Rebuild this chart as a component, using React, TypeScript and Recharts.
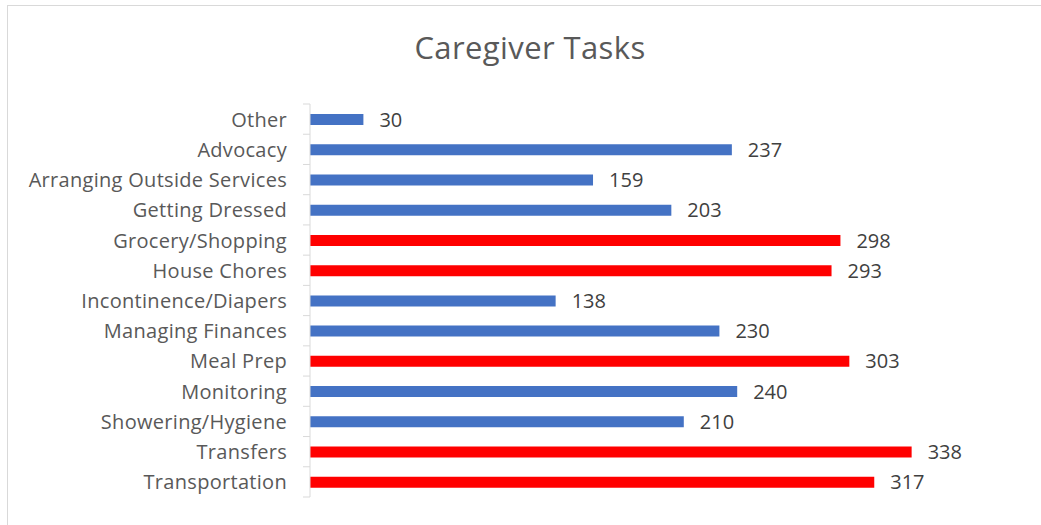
import React from 'react';
import { BarChart, Bar, XAxis, YAxis, Cell, LabelList } from 'recharts';

// =============================================================================
// Data
// =============================================================================

const TASKS = [
  'Other',
  'Advocacy',
  'Arranging Outside Services',
  'Getting Dressed',
  'Grocery/Shopping',
  'House Chores',
  'Incontinence/Diapers',
  'Managing Finances',
  'Meal Prep',
  'Monitoring',
  'Showering/Hygiene',
  'Transfers ',
  'Transportation',
];

const COUNTS = [30, 237, 159, 203, 298, 293, 138, 230, 303, 240, 210, 338, 317];

// tasks highlighted in red in the source chart
const HIGHLIGHT = [false, false, false, false, true, true, false, false, true, false, false, true, true];

const BLUE = '#4472c4';
const RED = '#ff0000';

const data = TASKS.map((name, i) => ({ name, value: COUNTS[i], hot: HIGHLIGHT[i] }));

// =============================================================================
// Layout
// =============================================================================

const WIDTH = 1041;
const HEIGHT = 525;
const MARGIN = { top: 104, right: 108, bottom: 28, left: 0 };
const AXIS_WIDTH = 310;
const FONT = '"Open Sans", Lato, sans-serif';

const BAND = (HEIGHT - MARGIN.top - MARGIN.bottom) / TASKS.length;

// Excel puts tick marks between categories, not at their centres
const CategoryTick = ({ x, y, payload, index }: any) => {
  const axisX = x + 16;
  return (
    <g>
      <line x1={axisX - 7} x2={axisX} y1={y - BAND / 2} y2={y - BAND / 2} stroke="#d9d9d9" />
      {index === TASKS.length - 1 && (
        <line x1={axisX - 7} x2={axisX} y1={y + BAND / 2} y2={y + BAND / 2} stroke="#d9d9d9" />
      )}
      <text
        x={x - 7}
        y={y}
        textAnchor="end"
        dominantBaseline="central"
        fill="#595959"
        fontSize={20}
        letterSpacing={0.3}
        fontFamily={FONT}
      >
        {payload.value}
      </text>
    </g>
  );
};

export default function App() {
  return (
    <div style={{ position: 'absolute', left: 0, top: 0, width: WIDTH, height: HEIGHT, background: '#fff' }}>
      <div
        style={{
          position: 'absolute',
          left: 7,
          top: 5,
          width: WIDTH,
          height: HEIGHT,
          border: '1px solid #d9d9d9',
          boxSizing: 'border-box',
        }}
      />
      <div
        style={{
          position: 'absolute',
          left: 0,
          top: 26,
          width: 1060,
          textAlign: 'center',
          fontFamily: FONT,
          fontSize: 31,
          letterSpacing: 0.4,
          color: '#595959',
        }}
      >
        Caregiver Tasks
      </div>
      <BarChart
        width={WIDTH}
        height={HEIGHT}
        data={data}
        layout="vertical"
        margin={MARGIN}
        barSize={11}
        style={{ position: 'absolute', left: 0, top: 0 }}
      >
        <XAxis type="number" domain={[0, 350]} hide />
        <YAxis
          type="category"
          dataKey="name"
          width={AXIS_WIDTH}
          axisLine={{ stroke: '#d9d9d9' }}
          tickLine={false}
          tickSize={0}
          tickMargin={16}
          tick={<CategoryTick />}
          interval={0}
        />
        <Bar dataKey="value" isAnimationActive={false}>
          {data.map((d, i) => (
            <Cell key={`cell-${i}`} fill={d.hot ? RED : BLUE} />
          ))}
          <LabelList
            dataKey="value"
            position="right"
            offset={16}
            fill="#404040"
            fontSize={20}
            fontFamily={FONT}
          />
        </Bar>
      </BarChart>
    </div>
  );
}
